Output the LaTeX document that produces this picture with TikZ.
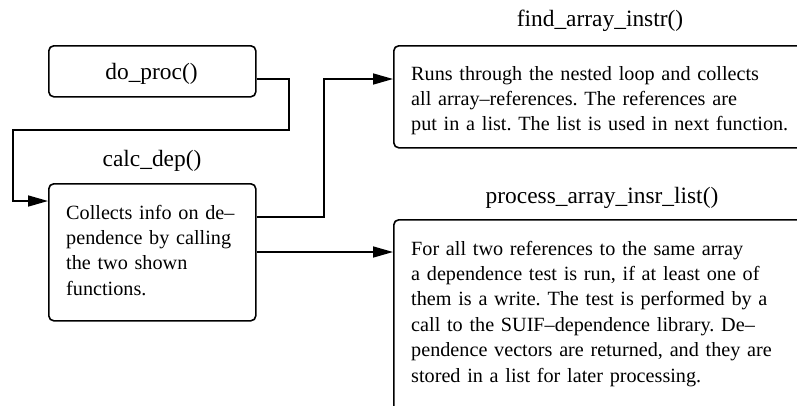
\documentclass[tikz,border=0pt]{standalone}
\usepackage{fontspec}
\setmainfont{Liberation Serif}
\usetikzlibrary{arrows.meta}
\frenchspacing
\begin{document}
\begin{tikzpicture}[x=1pt,y=-1pt,
  box/.style={draw,line width=1.6pt,rounded corners=5pt,inner sep=0pt,anchor=north west},
  title/.style={font=\fontsize{23.4}{28}\selectfont,anchor=base,inner sep=0pt},
  body/.style={font=\fontsize{20.2}{25.4}\selectfont,anchor=base west,inner sep=0pt,align=left,text width=#1},
  link/.style={line width=1.6pt,-{Triangle[length=20pt,width=11pt]}}]
\useasboundingbox (0,0) rectangle (797,405);
\clip (0,0) rectangle (797,405);

% function boxes
\node[box,minimum width=207pt,minimum height=51pt] (do) at (48,45) {};
\node[box,minimum width=207pt,minimum height=137pt] (calc) at (48,183) {};
\node[box,minimum width=420pt,minimum height=102pt] (find) at (393,45) {};
\node[box,minimum width=420pt,minimum height=200pt] (proc) at (393,219) {};

% function names
\node[title] (dot) at (151.5,79) {do\_proc()};
\node[title] (calct) at (152,166) {calc\_dep()};
\node[title] (findt) at (600,26) {find\_array\_instr()};
\node[title] (proct) at (602,203) {process\_array\_insr\_list()};

% descriptions
\node[body=200pt] (calcx) at (66,219) {Collects info on de–\\pendence by calling\\the two shown\\functions.};
\node[body=390pt] (findx) at (411,80) {Runs through the nested loop and collects\\all array–references. The references are\\put in a list. The list is used in next function.};
\node[body=390pt] (procx) at (411,255) {For all two references to the same array\\a dependence test is run, if at least one of\\them is a write. The test is performed by a\\call to the SUIF–dependence library. De–\\pendence vectors are returned, and they are\\stored in a list for later processing.};

% calls
\draw[link] (do.east |- 0,79) -| (289,130) -| (13,201) -- (calc.west |- 0,201);
\draw[link] (calc.east |- 0,217) -| (324,79) -- (find.west |- 0,79);
\draw[link] (calc.east |- 0,252) -- (proc.west |- 0,252);
\end{tikzpicture}
\end{document}
